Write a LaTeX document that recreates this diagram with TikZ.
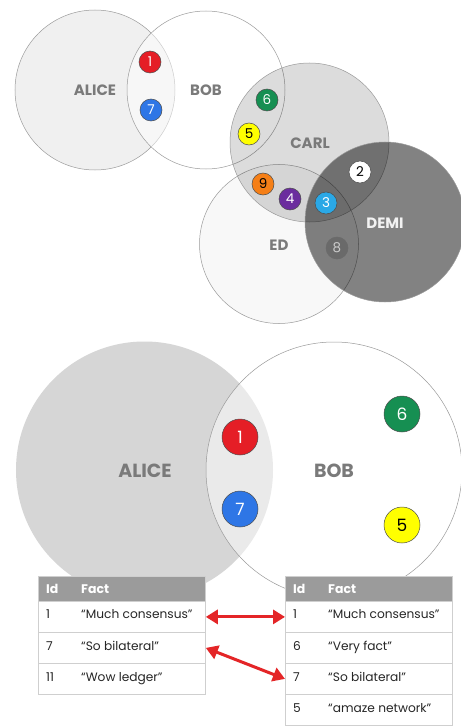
\documentclass[tikz,border=0pt]{standalone}
\usepackage{fontspec}
\setmainfont{Poppins}
\usetikzlibrary{arrows.meta}

\definecolor{namegray}{HTML}{7A7A7A}
\definecolor{dotred}{HTML}{E51E26}
\definecolor{dotblue}{HTML}{2E76E6}
\definecolor{dotgreen}{HTML}{168F52}
\definecolor{dotyellow}{HTML}{FFFF00}
\definecolor{dotorange}{HTML}{F57F17}
\definecolor{dotpurple}{HTML}{6B2D9E}
\definecolor{dotcyan}{HTML}{2AA8E6}
\definecolor{dotgray}{HTML}{6A6A6A}
\definecolor{rimgray}{HTML}{9A9A9A}
\definecolor{hdrgray}{HTML}{9B9B9B}
\definecolor{gridgray}{HTML}{CFCFCF}
\definecolor{linkred}{HTML}{E42527}

\tikzset{
  set/.style={circle, draw=rimgray, line width=0.5bp, inner sep=0pt},
  setname/.style={font=\bfseries\fontsize{15bp}{18bp}\selectfont, text=namegray, inner sep=0pt},
  bigname/.style={font=\bfseries\fontsize{19bp}{22bp}\selectfont, text=namegray, inner sep=0pt},
  dotsm/.style={circle, draw=black!70, line width=0.5bp, minimum size=22bp, inner sep=0pt,
    font=\fontsize{13.5bp}{13.5bp}\selectfont, text=white},
  dotlg/.style={circle, draw=black!70, line width=0.5bp, minimum size=36bp, inner sep=0pt,
    font=\fontsize{17bp}{17bp}\selectfont, text=white},
  hdrrow/.style={rectangle, fill=hdrgray, draw=gridgray, line width=0.6bp, minimum width=167bp,
    minimum height=25bp, anchor=north west, inner sep=0pt},
  datarow/.style={rectangle, fill=white, draw=gridgray, line width=0.8bp, minimum width=167bp,
    minimum height=31bp, anchor=north west, inner sep=0pt},
  hdrtxt/.style={font=\bfseries\fontsize{12.5bp}{14bp}\selectfont, text=white, anchor=base west, inner sep=0pt},
  celltxt/.style={font=\fontsize{12.2bp}{14bp}\selectfont, text=black!85, anchor=base west, inner sep=0pt},
  link/.style={draw=linkred, line width=3bp, {Triangle[length=12bp,width=14bp]}-{Triangle[length=12bp,width=14bp]}},
}

\begin{document}
\begin{tikzpicture}[x=1bp, y=-1bp]
\useasboundingbox (0,0) rectangle (461,726);
\fill[white] (0,0) rectangle (461,726);

% ---------- five overlapping sets ----------
\node[set, minimum size=160bp, fill=black, fill opacity=0.06] (alice) at (95,90) {};
\node[set, minimum size=158bp, fill=white, fill opacity=0.5] (bob) at (206,90) {};
\node[set, minimum size=159bp, fill=black, fill opacity=0.027] (ed) at (279,244) {};
\node[set, minimum size=159bp, fill=black, fill opacity=0.137] (carl) at (309.5,142.5) {};
\node[set, minimum size=160bp, fill=black, fill opacity=0.49] (demi) at (385,222) {};

\node[setname] (aliceL) at (95,90) {ALICE};
\node[setname] (bobL) at (206,90) {BOB};
\node[setname] (carlL) at (310,143) {CARL};
\node[setname, text=white!95!black] (demiL) at (385,223) {DEMI};
\node[setname] (edL) at (279,245) {ED};

\node[dotsm, fill=dotred] (t1) at (150,62) {1};
\node[dotsm, fill=dotblue] (t7) at (151,110) {7};
\node[dotsm, fill=dotgreen] (t6) at (267,100) {6};
\node[dotsm, fill=dotyellow, text=black] (t5) at (249,134) {5};
\node[dotsm, fill=white, text=black] (t2) at (360,172) {2};
\node[dotsm, fill=dotorange, text=black] (t9) at (263,184) {9};
\node[dotsm, fill=dotpurple] (t4) at (290,199) {4};
\node[dotsm, fill=dotcyan] (t3) at (326,203) {3};
\node[dotsm, fill=dotgray, draw=dotgray, text=black!20] (t8) at (337,248) {8};

% ---------- two-party view ----------
\node[circle, minimum size=257bp, inner sep=0pt, fill=black!16] (alice2) at (144.5,470) {};
\node[set, minimum size=256bp, fill=white, fill opacity=0.5] (bob2) at (334,470) {};

\node[bigname] (alice2L) at (145,471) {ALICE};
\node[bigname] (bob2L) at (334,471) {BOB};

\node[dotlg, fill=dotred] (b1) at (240,437) {1};
\node[dotlg, fill=dotblue] (b7) at (240,509) {7};
\node[dotlg, fill=dotgreen] (b6) at (402,414) {6};
\node[dotlg, fill=dotyellow, text=black] (b5) at (402,525) {5};

% ---------- left ledger ----------
\node[hdrrow] (lh) at (38,576) {};
\node[datarow] (lr1) at (38,601) {};
\node[datarow] (lr2) at (38,632) {};
\node[datarow] (lr3) at (38,663) {};
\node[hdrtxt] (lhid) at (46,593) {Id};
\node[hdrtxt] (lhfact) at (81,593) {Fact};
\node[celltxt] (lid1) at (46,618) {1};
\node[celltxt] (lf1) at (81,618) {“Much consensus”};
\node[celltxt] (lid2) at (46,650) {7};
\node[celltxt] (lf2) at (81,650) {“So bilateral”};
\node[celltxt] (lid3) at (46,681) {11};
\node[celltxt] (lf3) at (81,681) {“Wow ledger”};

% ---------- right ledger ----------
\node[hdrrow] (rh) at (285,576) {};
\node[datarow] (rr1) at (285,601) {};
\node[datarow] (rr2) at (285,632) {};
\node[datarow] (rr3) at (285,663) {};
\node[datarow] (rr4) at (285,694) {};
\node[hdrtxt] (rhid) at (293,593) {Id};
\node[hdrtxt] (rhfact) at (328,593) {Fact};
\node[celltxt] (rid1) at (293,618) {1};
\node[celltxt] (rf1) at (328,618) {“Much consensus”};
\node[celltxt] (rid2) at (293,650) {6};
\node[celltxt] (rf2) at (328,650) {“Very fact”};
\node[celltxt] (rid3) at (293,681) {7};
\node[celltxt] (rf3) at (328,681) {“So bilateral”};
\node[celltxt] (rid4) at (293,712) {5};
\node[celltxt] (rf4) at (328,712) {“amaze network”};

% ---------- matching links ----------
\draw[link] (lr1.east) -- (rr1.west);
\draw[link] (lr2.east) -- (rr3.west);
\end{tikzpicture}
\end{document}
